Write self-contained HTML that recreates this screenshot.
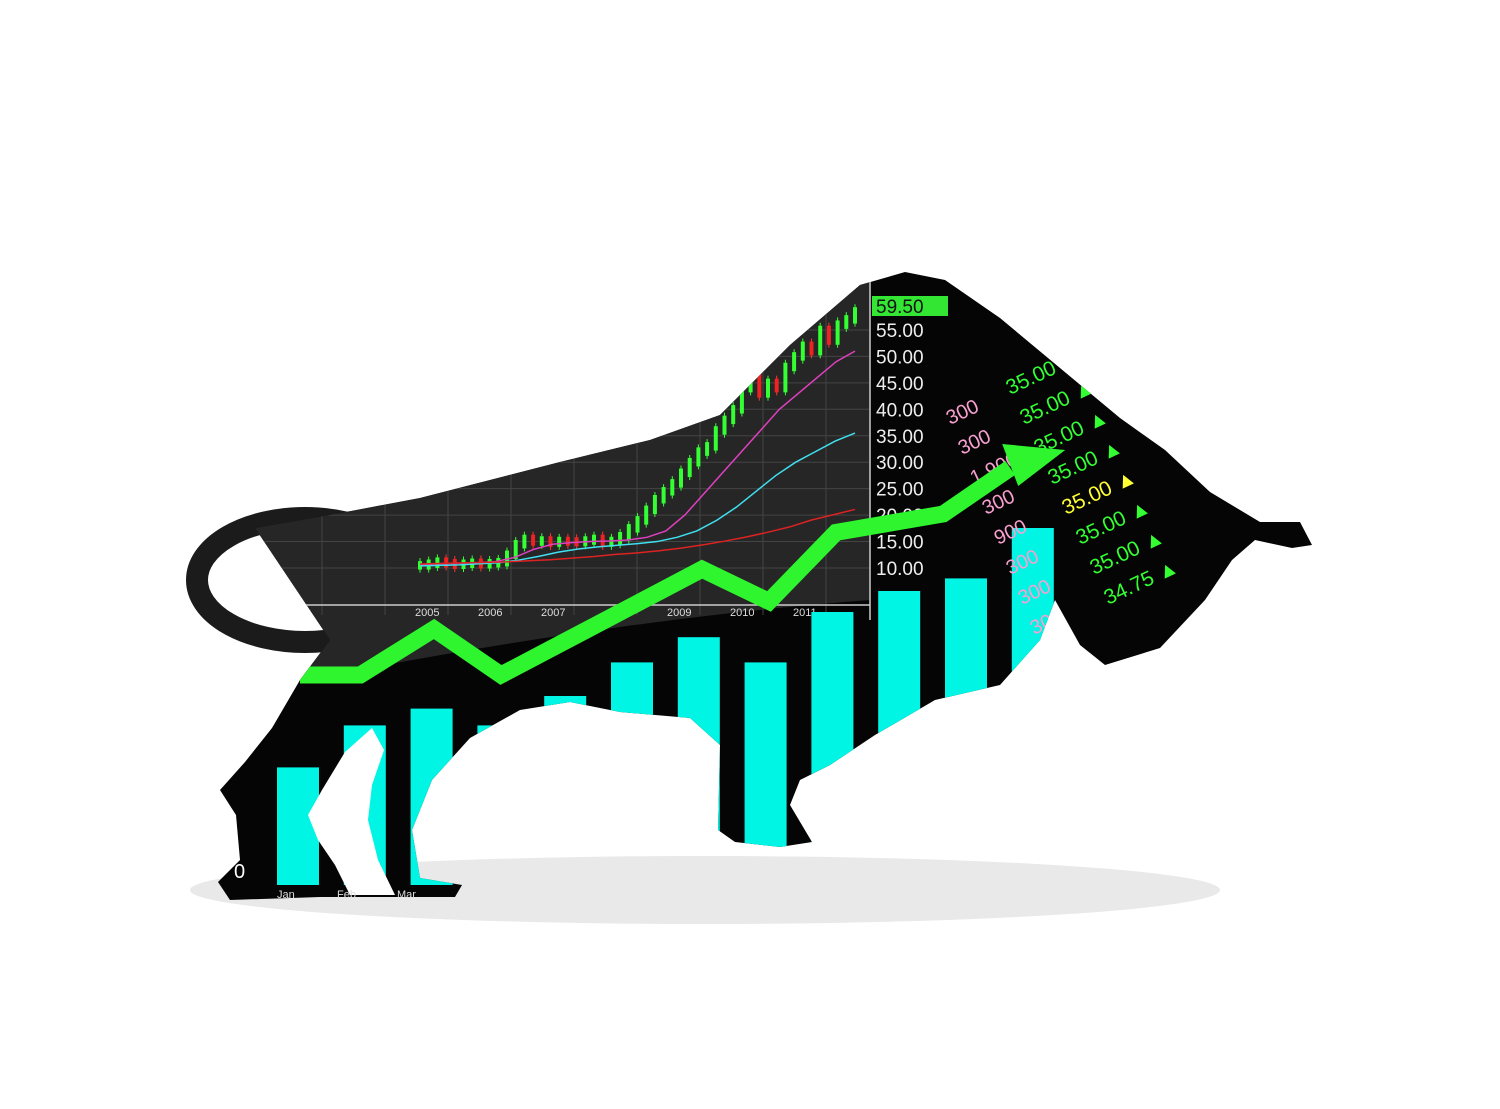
<!DOCTYPE html>
<html><head><meta charset="utf-8">
<style>
html,body{margin:0;padding:0;background:#fff;}
svg{display:block;font-family:"Liberation Sans",sans-serif;}
</style></head>
<body>
<svg id="c" width="1500" height="1109" viewBox="0 0 1500 1109">
<defs>
<clipPath id="bullClip">
<path d="M255,528 L330,515 L420,498 L560,462 L650,440 L720,415 L790,345 L860,285 L905,272 L945,280 L1000,318 L1060,368 L1120,418 L1165,450 L1210,492 L1260,522 L1300,522 L1312,545 L1292,548 L1255,540 L1232,560 L1205,600 L1160,648 L1105,665 L1080,645 L1055,600 L1040,640 L1000,685 L935,700 L875,735 L830,765 L800,780 L790,805 L812,842 L780,847 L735,842 L718,830 L720,745 L690,718 L620,712 L570,702 L520,710 L470,738 L432,780 L412,830 L420,878 L462,885 L455,897 L320,897 L230,900 L218,882 L240,860 L236,815 L220,790 L245,762 L272,728 L300,680 L330,640 Z"/>
</clipPath>
</defs>
<ellipse cx="705" cy="890" rx="515" ry="34" fill="#e9e9e9"/>
<ellipse cx="305" cy="580" rx="108" ry="62" fill="none" stroke="#1b1b1b" stroke-width="22"/>
<g clip-path="url(#bullClip)" id="bull">
<rect x="0" y="0" width="1500" height="1109" fill="#050505"/>
<path d="M255,270 L870,270 L870,600 Q600,620 255,690 Z" fill="#262626"/>
<g id="grid"></g>
<g id="bars"></g>
<g id="candles"></g>
<g id="ticker"></g>
<path d="M372,728 L345,752 L322,790 L308,815 L318,840 L335,865 L350,895 L395,895 L378,860 L368,820 L372,785 L384,750 Z" fill="#fff"/>
</g>
<g id="overlay"></g>
</svg>
<script>
const NS="http://www.w3.org/2000/svg";
const barValues=[28,38,42,38,45,53,59,53,65,70,73,85];
const candleCloses=[10.5,10.8,11.2,10.9,10.6,10.8,11,10.7,10.9,11.1,12.5,14.5,15.5,15,15.2,14.8,15.1,15,14.9,15.2,15.5,14.8,15.1,16,17.5,19,21,23,24.5,26,28,30,32,33,36,38,40,44,46,43,45,44,48,50,52,51,55,53,56,57,58.5];
const maFast=[10.6,10.8,10.9,11,11.2,12,13.5,14.5,14.8,15,15.1,15.3,15.8,17,20,24,28,32,36,40,43,46,49,51];
const maSlow=[10.4,10.5,10.6,10.8,11,11.5,12.2,13,13.6,14,14.3,14.6,15,15.8,17,19,21.5,24.5,27.5,30,32,34,35.5];
const maLong=[10.2,10.3,10.4,10.5,10.6,10.8,11,11.3,11.6,12,12.3,12.7,13.2,13.8,14.5,15.3,16.2,17.2,18.5,19.5,20.5];
const priceTicks=["55.00","50.00","45.00","40.00","35.00","30.00","25.00","20.00","15.00","10.00"];
const priceVals=[55,50,45,40,35,30,25,20,15,10];
const yearLabels=["2005","2006","2007","2009","2010","2011"];
const yearPos=[2005,2006,2007,2009,2010,2011];
const arrowX=[0,0.9,2,3,6,7,8,9.6,10.6];
const arrowV=[10,10,20,10,33,26,41,45,55];

function el(t,a,p){const e=document.createElementNS(NS,t);for(const k in a)e.setAttribute(k,a[k]);p.appendChild(e);return e;}
const py=p=>568-(p-10)*5.29;
const yx=y=>415+(y-2005)*63;
const bx=i=>277+i*66.8;
const by=v=>885-v*4.2;

const grid=document.getElementById('grid');
for(let i=0;i<priceVals.length;i++){const l=el('line',{x1:255,x2:870,y1:py(priceVals[i]),y2:py(priceVals[i]),stroke:'#444','stroke-width':1},grid);
}
for(let y=2004;y<=2012;y++){const l=el('line',{x1:yx(y)-30,x2:yx(y)-30,y1:270,y2:615,stroke:'#444','stroke-width':1},grid);
}
el('line',{x1:870,x2:870,y1:270,y2:620,stroke:'#ccc','stroke-width':1.5},grid);
el('line',{x1:255,x2:870,y1:605,y2:605,stroke:'#ccc','stroke-width':1.5},grid);
yearLabels.forEach((t,i)=>{const e=el('text',{x:yx(yearPos[i]),y:616,fill:'#ddd','font-size':11},grid);e.textContent=t;
});

const bars=document.getElementById('bars');
barValues.forEach((v,i)=>{const r=el('rect',{x:bx(i),y:by(v),width:42,height:885-by(v),fill:'#00f5e4'},bars);
});

const cg=document.getElementById('candles');
const cx=i=>420+i*(435/(candleCloses.length-1));
candleCloses.forEach((c,i)=>{const o=i?candleCloses[i-1]:c;const up=c>=o;
const top=py(Math.max(o,c)+0.8),bot=py(Math.min(o,c)-0.8);
el('line',{x1:cx(i),x2:cx(i),y1:top-3,y2:bot+3,stroke:up?'#3f3':'#f33','stroke-width':1},cg);
const r=el('rect',{x:cx(i)-2,y:top,width:4,height:Math.max(2,bot-top),fill:up?'#3f3':'#e22'},cg);
});
function ma(arr,col,name){const step=435/(arr.length-1);const p=el('polyline',{points:arr.map((v,i)=>(420+i*step)+','+py(v)).join(' '),fill:'none',stroke:col,'stroke-width':1.5},cg);
}
ma(maFast,'#e040c0','ma-fast-line');ma(maSlow,'#40e0f0','ma-slow-line');
(function(){const step=(855-420)/(maLong.length-1);const p=el('polyline',{points:maLong.map((v,i)=>(420+i*step)+','+(py(v)-3)).join(' '),fill:'none',stroke:'#d22','stroke-width':1.5},cg);
})();

const tk=document.getElementById('ticker');
const b=el('rect',{x:872,y:296,width:76,height:20,fill:'#33e633'},tk);

const cp=el('text',{x:876,y:313,fill:'#111','font-size':19},tk);cp.textContent='59.50';

priceTicks.forEach((t,i)=>{const e=el('text',{x:876,y:py(priceVals[i])+7,fill:'#eee','font-size':19},tk);e.textContent=t;
});
const rows=[["35.00 ▲","#3f3"],["35.00 ▲","#3f3"],["35.00 ▲","#3f3"],["35.00 ▲","#3f3"],["35.00 ▲","#ff3"],["35.00 ▲","#3f3"],["35.00 ▲","#3f3"],["34.75 ▲","#3f3"]];
rows.forEach((r,i)=>{const e=el('text',{x:1010+i*14,y:395+i*30,fill:r[1],'font-size':21,transform:`rotate(-25 ${1010+i*14} ${395+i*30})`},tk);e.textContent=r[0];
});
const vols=["300","300","1,900","300","900","300","300","300"];
vols.forEach((t,i)=>{const e=el('text',{x:950+i*12,y:425+i*30,fill:'#f7a0d0','font-size':20,transform:`rotate(-25 ${950+i*12} ${425+i*30})`},tk);e.textContent=t;
});

const ov=document.getElementById('overlay');
const ax=i=>300+i*67,av=v=>675-(v-10)*4.6;
const pts=arrowX.map((x,i)=>ax(x)+','+av(arrowV[i])).join(' ');
const ln=el('polyline',{points:pts,fill:'none',stroke:'#2ef52e','stroke-width':17,'stroke-linejoin':'miter'},document.getElementById('bull'));

const n=arrowX.length,hx=ax(arrowX[n-1]),hy=av(arrowV[n-1]);
const ah=el('polygon',{points:`${hx+55},${hy-18} ${hx-8},${hy-24} ${hx+8},${hy+18}`,fill:'#2ef52e'},ov);

const z=el('text',{x:234,y:878,fill:'#fff','font-size':20},ov);z.textContent='0';

["Jan","Feb","Mar"].forEach((m,i)=>{const e=el('text',{x:277+i*60,y:898,fill:'#ddd','font-size':11},ov);e.textContent=m;
});
</script>
</body></html>
